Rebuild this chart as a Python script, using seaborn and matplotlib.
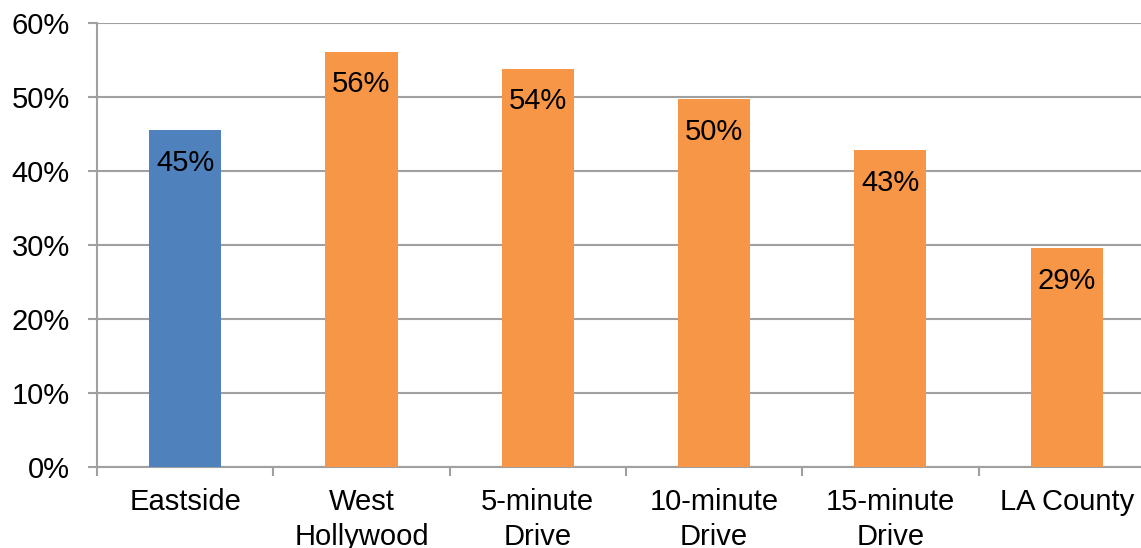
import matplotlib
matplotlib.use("Agg")
import matplotlib.pyplot as plt
import seaborn as sns
from matplotlib.ticker import FixedLocator, PercentFormatter

categories = ["Eastside", "West\nHollywood", "5-minute\nDrive", "10-minute\nDrive", "15-minute\nDrive", "LA County"]
values = [45.5, 56.1, 53.8, 49.7, 42.8, 29.5]
labels = ["45%", "56%", "54%", "50%", "43%", "29%"]
colors = ["#4F81BD", "#F79646", "#F79646", "#F79646", "#F79646", "#F79646"]
yticks = [0, 10, 20, 30, 40, 50, 60]

sns.set_style("white")
plt.rcParams['font.family'] = ['Liberation Sans', 'DejaVu Sans']

FS = 21
W, H = 1141, 548
fig = plt.figure(figsize=(W / 100, H / 100), dpi=100)
left, right = 97, 97 + 6 * 176.3
top, bottom = 22.7, 466.7
ax = fig.add_axes([left / W, 1 - bottom / H, (right - left) / W, (bottom - top) / H])

sns.barplot(x=categories, y=values, hue=categories, palette=colors, legend=False,
            width=0.41, saturation=1, linewidth=0, ax=ax, zorder=3)

ax.set_xlim(-0.5, 5.5)
ax.set_ylim(0, 60)
ax.set_yticks(yticks)
ax.yaxis.set_major_formatter(PercentFormatter(decimals=0))
ax.yaxis.grid(True, color="#A0A0A0", linewidth=1.5, zorder=0)
ax.set_axisbelow(True)
for s in ["top", "right"]:
    ax.spines[s].set_visible(False)
for s in ["left", "bottom"]:
    ax.spines[s].set_color("#A0A0A0")
    ax.spines[s].set_linewidth(1.5)

ax.tick_params(axis="y", left=True, length=6.5, width=1.5, color="#A0A0A0", pad=13,
               labelsize=FS, labelcolor="black")
ax.tick_params(axis="x", which="major", bottom=False, length=0, pad=15.5,
               labelsize=FS, labelcolor="black")
ax.xaxis.set_minor_locator(FixedLocator([i - 0.5 for i in range(7)]))
ax.tick_params(axis="x", which="minor", bottom=True, length=6.5, width=1.5, color="#A0A0A0")
for t in ax.get_xticklabels():
    t.set_linespacing(1.3)
ax.set_xlabel("")
ax.set_ylabel("")

for i, (v, lab) in enumerate(zip(values, labels)):
    ax.annotate(lab, (i, v), xytext=(0, -23.5), textcoords="offset points",
                ha="center", va="center", fontsize=FS, color="black", zorder=4)

fig.savefig("out.png", dpi=100)
